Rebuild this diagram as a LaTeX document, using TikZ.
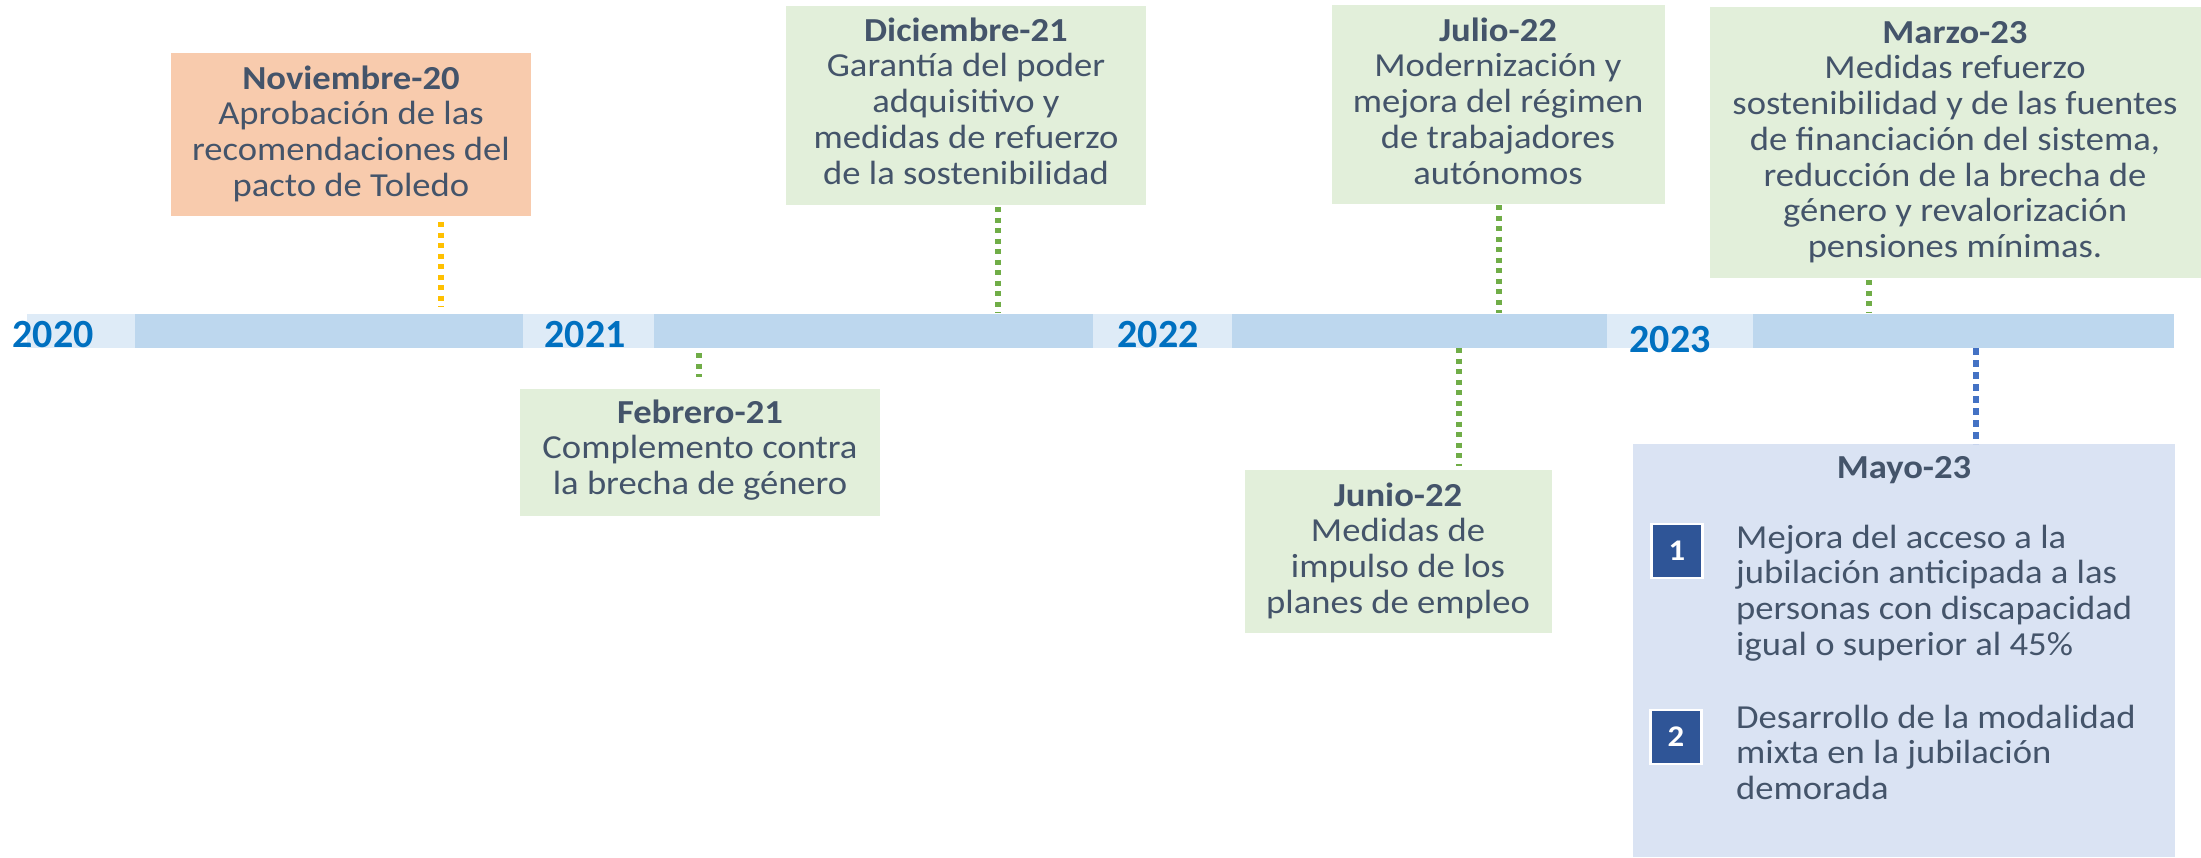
\documentclass[tikz,border=0pt]{standalone}
\usepackage{fontspec}
\setmainfont{Carlito}
\newfontfamily\bodyf{Carlito}[FakeStretch=1.09]
\definecolor{txt}{HTML}{44546A}
\definecolor{bardark}{HTML}{BDD7EE}
\definecolor{barlight}{HTML}{DEEBF7}
\definecolor{yearc}{HTML}{0070C0}
\definecolor{salmon}{HTML}{F8CBAD}
\definecolor{greenbox}{HTML}{E2EFDA}
\definecolor{bluebox}{HTML}{DAE3F3}
\definecolor{sqc}{HTML}{2F5597}
\definecolor{dotY}{HTML}{FFC000}
\definecolor{dotG}{HTML}{70AD47}
\definecolor{dotB}{HTML}{4472C4}
\newcommand{\fl}{\rule{0pt}{28pt}}
\tikzset{
  evtext/.style={inner sep=0pt, align=center, text=txt, anchor=north,
    font={\bodyf\fontsize{33.6}{35.7}\selectfont}},
  itemtext/.style={inner sep=0pt, align=left, text=txt, anchor=north west,
    font={\bodyf\fontsize{33.6}{35.7}\selectfont}},
  evbox/.style={inner sep=0pt, outer sep=0pt, anchor=north west, draw=none},
  yearlbl/.style={inner sep=0pt, anchor=base, text=yearc,
    font={\bfseries\fontsize{40}{40}\selectfont}},
  numsq/.style={fill=sqc, draw=white, line width=2.5pt, minimum width=51pt,
    minimum height=54pt, inner sep=0pt, text=white,
    font={\bodyf\bfseries\fontsize{30}{30}\selectfont}},
  conn/.style={line width=5.5pt, dash pattern=on 5pt off 5.5pt},
  bluconn/.style={line width=6pt, dash pattern=on 7pt off 5pt},
}
\begin{document}
\begin{tikzpicture}[x=1pt,y=-1pt]
\useasboundingbox (0,0) rectangle (2201,857);

% timeline bar
\fill[barlight] (27,314) rectangle (135,348);
\fill[bardark] (135,314) rectangle (523,348);
\fill[barlight] (523,314) rectangle (654,348);
\fill[bardark] (654,314) rectangle (1093,348);
\fill[barlight] (1093,314) rectangle (1232,348);
\fill[bardark] (1232,314) rectangle (1607,348);
\fill[barlight] (1607,314) rectangle (1753,348);
\fill[bardark] (1753,314) rectangle (2174,348);

\node[yearlbl] (y2020) at (53,347) {2020};
\node[yearlbl] (y2021) at (585,347) {2021};
\node[yearlbl] (y2022) at (1158,347) {2022};
\node[yearlbl] (y2023) at (1670,352) {2023};

% boxes
\node[evbox, fill=salmon, minimum width=360pt, minimum height=163pt] (nov) at (171,53) {};
\node[evbox, fill=greenbox, minimum width=360pt, minimum height=127pt] (feb) at (520,389) {};
\node[evbox, fill=greenbox, minimum width=360pt, minimum height=199pt] (dic) at (786,6) {};
\node[evbox, fill=greenbox, minimum width=333pt, minimum height=199pt] (jul) at (1332,5) {};
\node[evbox, fill=greenbox, minimum width=307pt, minimum height=163pt] (jun) at (1245,470) {};
\node[evbox, fill=greenbox, minimum width=491pt, minimum height=271pt] (mar) at (1710,7) {};
\node[evbox, fill=bluebox, minimum width=542pt, minimum height=413pt] (may) at (1633,444) {};

% texts
\node[evtext] (novt) at (351,61) {\fl\textbf{Noviembre-20}\\Aprobación de las\\recomendaciones del\\pacto de Toledo};
\node[evtext] (febt) at (700,395) {\fl\textbf{Febrero-21}\\Complemento contra\\la brecha de género};
\node[evtext] (dict) at (966,13) {\fl\textbf{Diciembre-21}\\Garantía del poder\\adquisitivo y\\medidas de refuerzo\\de la sostenibilidad};
\node[evtext] (jult) at (1498,13) {\fl\textbf{Julio-22}\\Modernización y\\mejora del régimen\\de trabajadores\\autónomos};
\node[evtext] (junt) at (1398,478) {\fl\textbf{Junio-22}\\Medidas de\\impulso de los\\planes de empleo};
\node[evtext] (mart) at (1955,15) {\fl\textbf{Marzo-23}\\Medidas refuerzo\\sostenibilidad y de las fuentes\\de financiación del sistema,\\reducción de la brecha de\\género y revalorización\\pensiones mínimas.};
\node[evtext] (mayt) at (1904,450) {\fl\textbf{Mayo-23}};

\node[numsq] (sq1) at (1677,551) {1};
\node[numsq] (sq2) at (1676,737) {2};
\node[itemtext] (it1) at (1736,520) {\fl Mejora del acceso a la\\jubilación anticipada a las\\personas con discapacidad\\igual o superior al 45\%};
\node[itemtext] (it2) at (1736,700) {\fl Desarrollo de la modalidad\\mixta en la jubilación\\demorada};

% connectors
\coordinate (pNov) at (441,313);
\coordinate (pFeb) at (699,348);
\coordinate (pDic) at (998,313);
\coordinate (pJul) at (1499,313);
\coordinate (pJun) at (1459,348);
\coordinate (pMar) at (1869,313);
\coordinate (pMay) at (1976,348);

\draw[conn, draw=dotY, shorten <=6pt, shorten >=6pt] (nov.south -| pNov) -- (pNov);
\draw[conn, draw=dotG, shorten <=5pt, shorten >=12pt] (pFeb) -- (feb.north -| pFeb);
\draw[conn, draw=dotG, shorten <=2pt] (dic.south -| pDic) -- (pDic);
\draw[conn, draw=dotG, shorten <=1pt] (jul.south -| pJul) -- (pJul);
\draw[conn, draw=dotG, shorten >=4pt] (pJun) -- (jun.north -| pJun);
\draw[conn, draw=dotG, shorten <=2pt] (mar.south -| pMar) -- (pMar);
\draw[bluconn, draw=dotB] (pMay) -- (may.north -| pMay);
\end{tikzpicture}
\end{document}
